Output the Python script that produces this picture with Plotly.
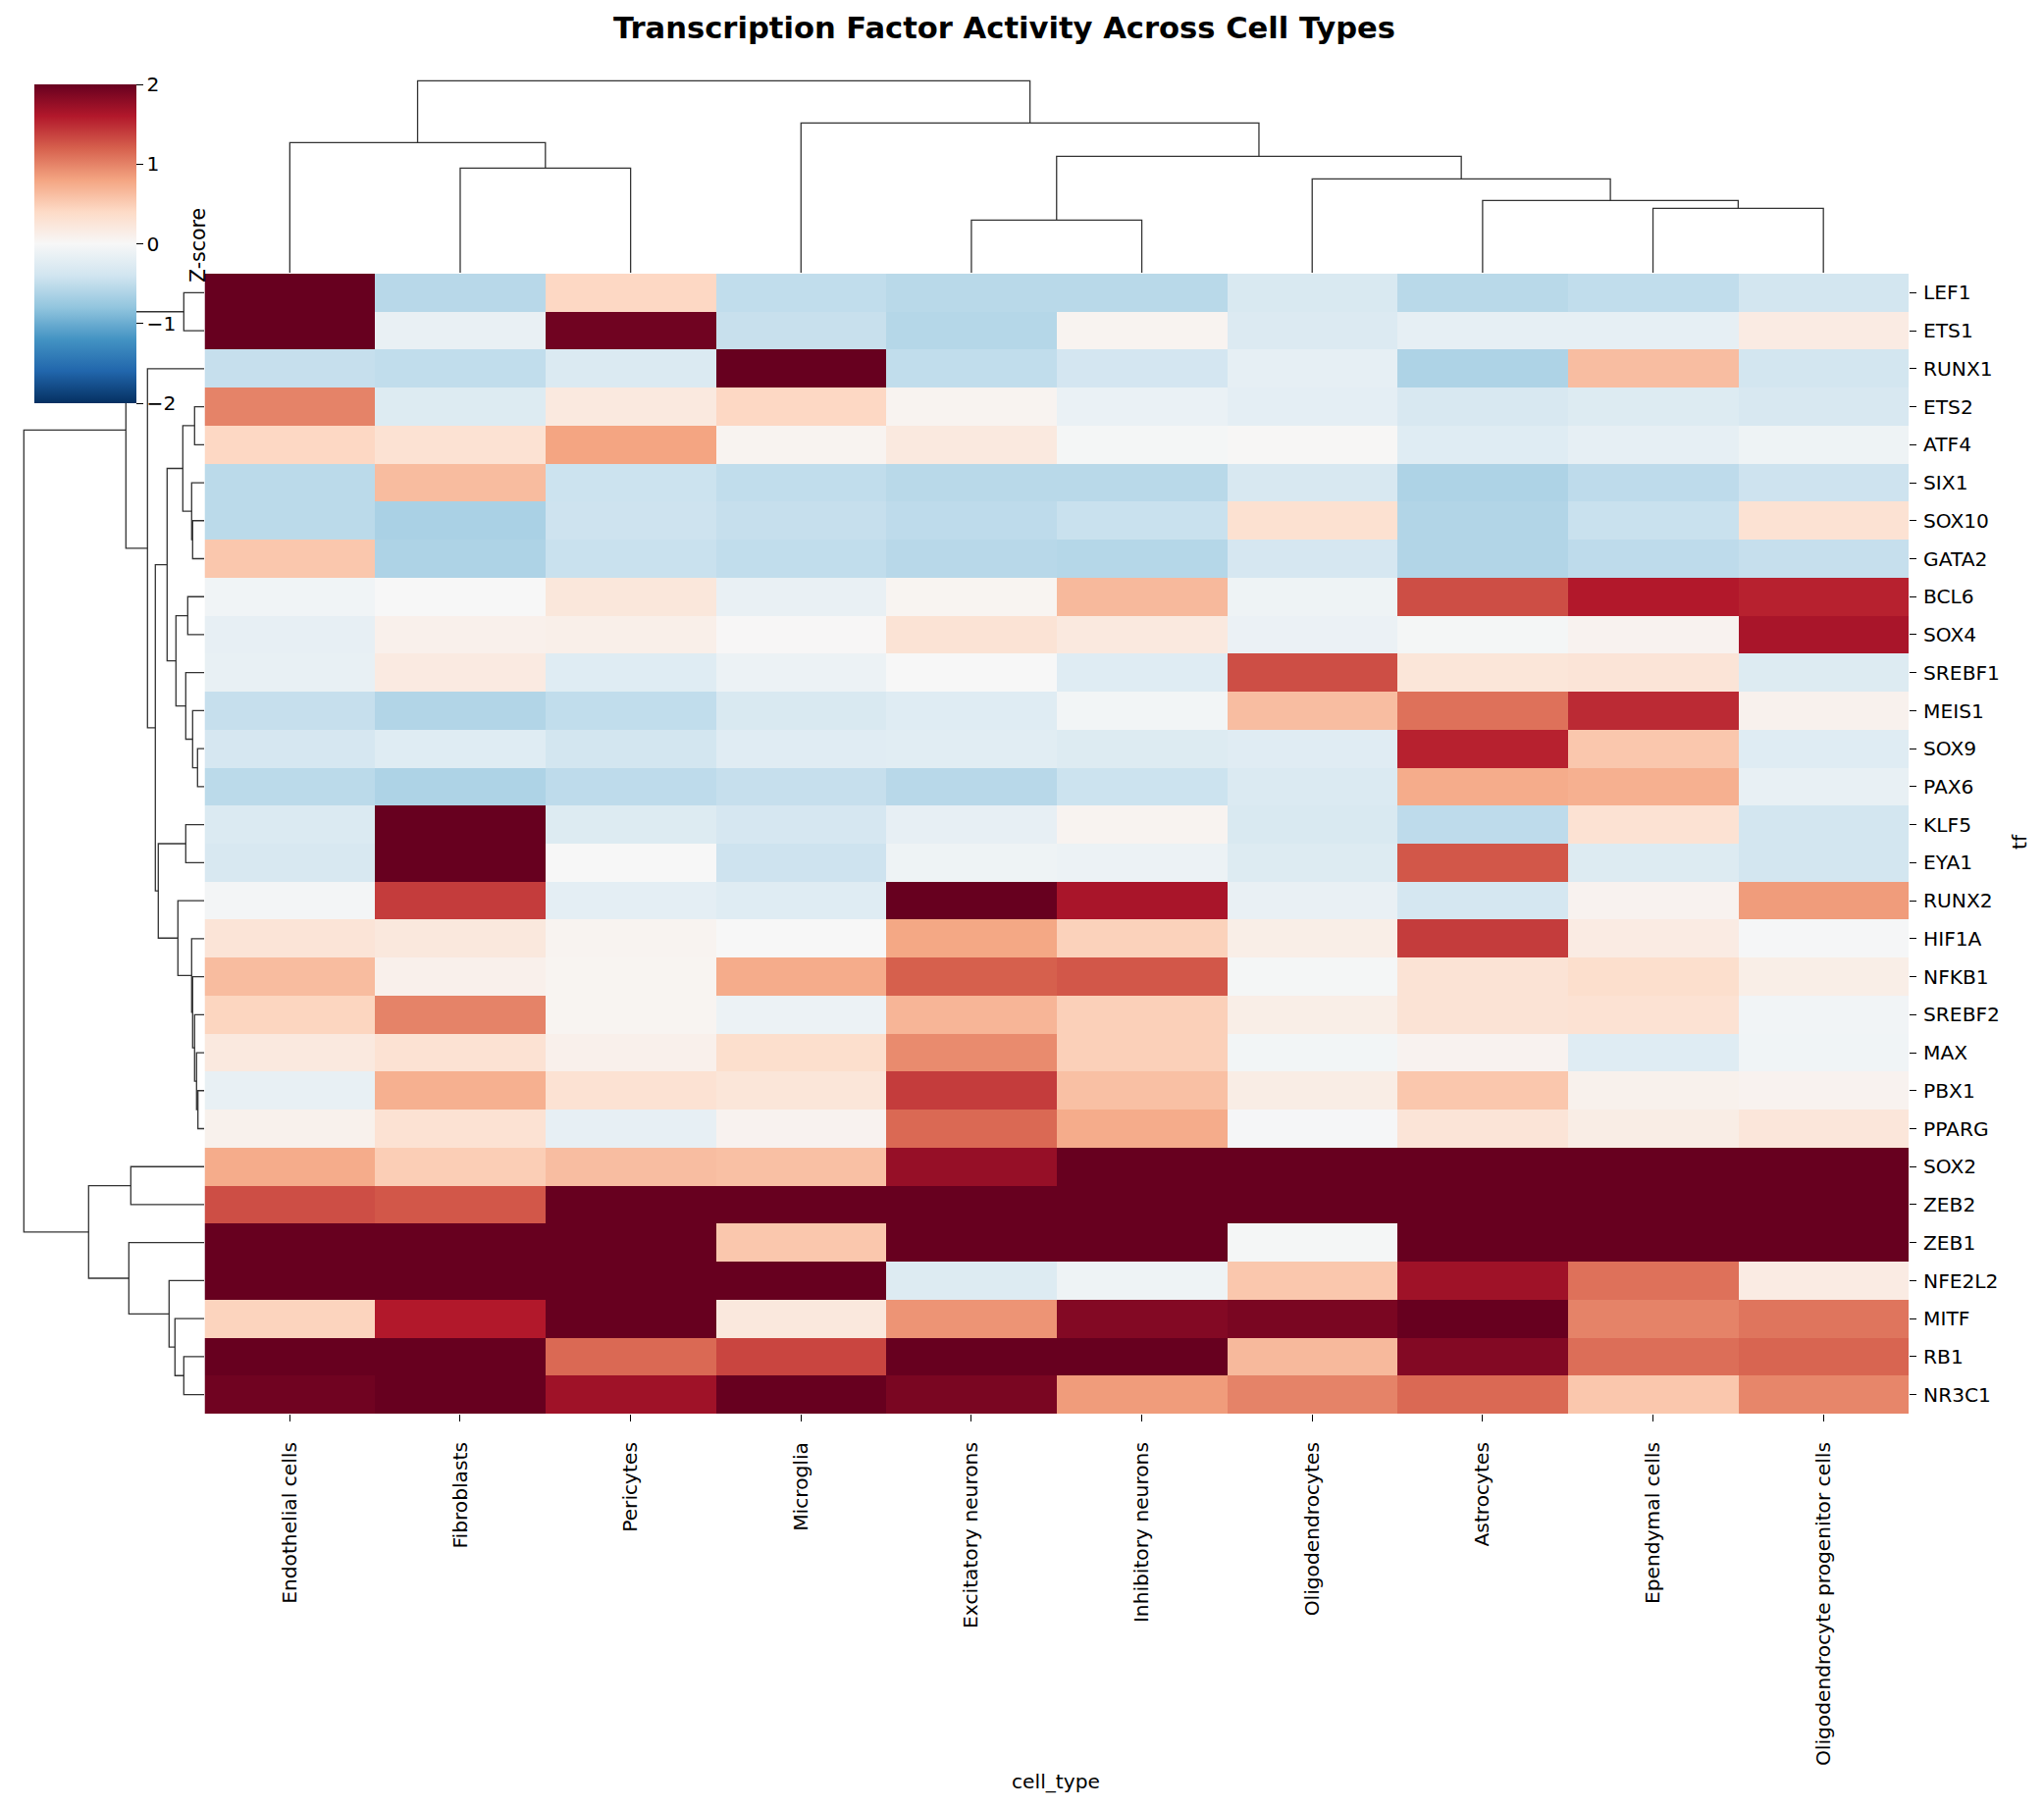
import plotly.graph_objects as go

W, H = 2083, 1843

cell_types = ["Endothelial cells", "Fibroblasts", "Pericytes", "Microglia", "Excitatory neurons",
              "Inhibitory neurons", "Oligodendrocytes", "Astrocytes", "Ependymal cells",
              "Oligodendrocyte progenitor cells"]
tfs = ["LEF1", "ETS1", "RUNX1", "ETS2", "ATF4", "SIX1", "SOX10", "GATA2", "BCL6", "SOX4",
       "SREBF1", "MEIS1", "SOX9", "PAX6", "KLF5", "EYA1", "RUNX2", "HIF1A", "NFKB1", "SREBF2",
       "MAX", "PBX1", "PPARG", "SOX2", "ZEB2", "ZEB1", "NFE2L2", "MITF", "RB1", "NR3C1"]

# z-scores, one list per tf, same order as cell_types
LEF1 = [2.5, -0.56, 0.42, -0.5, -0.55, -0.55, -0.32, -0.55, -0.5, -0.38]
ETS1 = [2.5, -0.15, 1.95, -0.46, -0.58, 0.06, -0.28, -0.18, -0.18, 0.17]
RUNX1 = [-0.47, -0.5, -0.3, 2.5, -0.5, -0.37, -0.18, -0.62, 0.62, -0.38]
ETS2 = [1.0, -0.27, 0.2, 0.42, 0.06, -0.14, -0.2, -0.33, -0.27, -0.33]
ATF4 = [0.42, 0.3, 0.8, 0.06, 0.2, -0.03, 0.02, -0.25, -0.18, -0.1]
SIX1 = [-0.54, 0.63, -0.43, -0.5, -0.55, -0.55, -0.33, -0.62, -0.52, -0.42]
SOX10 = [-0.54, -0.65, -0.42, -0.47, -0.52, -0.45, 0.32, -0.6, -0.45, 0.3]
GATA2 = [0.55, -0.62, -0.45, -0.5, -0.56, -0.58, -0.35, -0.6, -0.52, -0.47]
BCL6 = [-0.07, 0.0, 0.23, -0.15, 0.05, 0.65, -0.1, 1.3, 1.6, 1.55]
SOX4 = [-0.17, 0.1, 0.12, 0.01, 0.28, 0.2, -0.13, -0.03, 0.07, 1.65]
SREBF1 = [-0.16, 0.18, -0.25, -0.12, 0.0, -0.25, 1.3, 0.25, 0.27, -0.27]
MEIS1 = [-0.47, -0.6, -0.5, -0.32, -0.25, -0.05, 0.62, 1.1, 1.5, 0.08]
SOX9 = [-0.35, -0.25, -0.38, -0.24, -0.23, -0.27, -0.24, 1.55, 0.55, -0.25]
PAX6 = [-0.54, -0.62, -0.52, -0.47, -0.56, -0.43, -0.3, 0.75, 0.72, -0.16]
KLF5 = [-0.3, 2.5, -0.27, -0.35, -0.17, 0.06, -0.32, -0.52, 0.3, -0.38]
EYA1 = [-0.33, 2.5, 0.0, -0.42, -0.1, -0.12, -0.27, 1.25, -0.27, -0.38]
RUNX2 = [-0.04, 1.4, -0.2, -0.25, 2.5, 1.65, -0.15, -0.36, 0.07, 0.85]
HIF1A = [0.27, 0.22, 0.06, 0.0, 0.78, 0.47, 0.13, 1.4, 0.17, -0.02]
NFKB1 = [0.63, 0.1, 0.05, 0.75, 1.2, 1.25, -0.03, 0.28, 0.35, 0.13]
SREBF2 = [0.44, 1.0, 0.05, -0.12, 0.68, 0.48, 0.13, 0.28, 0.3, -0.06]
MAX = [0.2, 0.3, 0.1, 0.35, 0.95, 0.48, -0.05, 0.07, -0.25, -0.07]
PBX1 = [-0.16, 0.72, 0.3, 0.25, 1.4, 0.6, 0.15, 0.55, 0.09, 0.07]
PPARG = [0.09, 0.3, -0.17, 0.07, 1.15, 0.75, -0.02, 0.27, 0.15, 0.24]
SOX2 = [0.75, 0.5, 0.62, 0.6, 1.75, 2.5, 2.5, 2.5, 2.5, 2.5]
ZEB2 = [1.3, 1.25, 2.5, 2.5, 2.5, 2.5, 2.5, 2.5, 2.5, 2.5]
ZEB1 = [2.5, 2.5, 2.5, 0.55, 2.5, 2.5, -0.03, 2.5, 2.5, 2.5]
NFE2L2 = [2.5, 2.5, 2.5, 2.5, -0.27, -0.1, 0.55, 1.7, 1.1, 0.17]
MITF = [0.45, 1.6, 2.5, 0.22, 0.9, 1.85, 1.9, 2.1, 1.0, 1.08]
RB1 = [2.5, 2.5, 1.15, 1.35, 2.5, 2.5, 0.65, 1.85, 1.12, 1.17]
NR3C1 = [1.95, 2.4, 1.7, 2.5, 1.9, 0.85, 1.0, 1.15, 0.55, 0.98]

z_values = [LEF1, ETS1, RUNX1, ETS2, ATF4, SIX1, SOX10, GATA2, BCL6, SOX4,
            SREBF1, MEIS1, SOX9, PAX6, KLF5, EYA1, RUNX2, HIF1A, NFKB1, SREBF2,
            MAX, PBX1, PPARG, SOX2, ZEB2, ZEB1, NFE2L2, MITF, RB1, NR3C1]

# linkage, scipy style: leaves are 0..n-1, merge i makes node n+i: (child a, child b, distance)
col_linkage = [(1, 2, 106.7), (0, 10, 132.7), (4, 5, 53.7), (8, 9, 65.7), (7, 13, 73.7),
               (6, 14, 95.7), (12, 15, 118.7), (3, 16, 152.7), (11, 17, 195.7)]
row_linkage = [(0, 1, 20.7), (3, 4, 9.7), (6, 7, 11.7), (5, 32, 12.7), (31, 33, 21.7),
               (12, 13, 6.7), (11, 35, 11.7), (10, 36, 18.7), (8, 9, 16.7), (38, 37, 28.7),
               (34, 39, 37.7), (14, 15, 18.7), (21, 22, 6.3), (20, 42, 7.7), (19, 43, 9.7),
               (18, 44, 11.7), (17, 45, 12.7), (16, 46, 26.7), (41, 47, 46.7), (40, 48, 49.7),
               (2, 49, 57.7), (30, 50, 79.7), (23, 24, 74.7), (28, 29, 20.7), (27, 53, 29.7),
               (26, 54, 35.7), (25, 55, 76.7), (52, 56, 117.7), (51, 57, 183.7)]

colorscale = [[0.0, "#053061"], [0.1, "#2166ac"], [0.2, "#4393c3"], [0.3, "#92c5de"], [0.4, "#d1e5f0"],
              [0.5, "#f7f7f7"], [0.6, "#fddbc7"], [0.7, "#f4a582"], [0.8, "#d6604d"], [0.9, "#b2182b"],
              [1.0, "#67001f"]]


def dendro_segments(linkage, n):
    """u-shaped links, returns leaf-position and distance lists with None gaps"""
    pos = {i: float(i) for i in range(n)}
    dist = {i: 0.0 for i in range(n)}
    p_out, d_out = [], []
    for i, (a, b, d) in enumerate(linkage):
        p_out += [pos[a], pos[a], pos[b], pos[b], None]
        d_out += [dist[a], d, d, dist[b], None]
        pos[n + i] = (pos[a] + pos[b]) / 2
        dist[n + i] = d
    return p_out, d_out


# pixel layout of the clustermap
hm_x = [208.5 / W, 1945 / W]
hm_y = [1 - 1441 / H, 1 - 279 / H]

fig = go.Figure()

fig.add_trace(go.Heatmap(
    z=z_values, x=cell_types, y=tfs, zmin=-2, zmax=2, colorscale=colorscale,
    colorbar=dict(
        x=35 / W, xanchor="left", xpad=0, y=1 - 86 / H, yanchor="top", ypad=0,
        len=325, lenmode="pixels", thickness=104, thicknessmode="pixels",
        outlinewidth=0, ticks="outside", ticklen=7, tickwidth=1.3, tickcolor="black",
        tickvals=[-2, -1, 0, 1, 2], tickfont=dict(size=20.2, color="black"),
    ),
))

p, d = dendro_segments(col_linkage, len(cell_types))
fig.add_trace(go.Scatter(x=p, y=d, mode="lines", xaxis="x2", yaxis="y2", hoverinfo="skip",
                         line=dict(color="#333333", width=1.3), showlegend=False))
p, d = dendro_segments(row_linkage, len(tfs))
fig.add_trace(go.Scatter(x=d, y=p, mode="lines", xaxis="x3", yaxis="y3", hoverinfo="skip",
                         line=dict(color="#333333", width=1.3), showlegend=False))

fig.update_layout(
    width=W, height=H, margin=dict(l=0, r=0, t=0, b=0),
    paper_bgcolor="white", plot_bgcolor="white",
    font=dict(family="DejaVu Sans", size=20.2, color="black"),
    title=dict(text="<b>Transcription Factor Activity Across Cell Types</b>", x=1023.5 / W, xanchor="center",
               y=1 - 28 / H, yanchor="middle", font=dict(size=30.6, color="black")),
    xaxis=dict(domain=hm_x, anchor="y", ticks="outside", ticklen=7, tickwidth=1.3, tickcolor="black",
               tickangle=-90, ticklabelstandoff=13, showgrid=False, zeroline=False, automargin=False),
    yaxis=dict(domain=hm_y, anchor="x", side="right", autorange="reversed", ticks="outside", ticklen=7,
               ticklabelstandoff=3, tickwidth=1.3, tickcolor="black", showgrid=False, zeroline=False,
               automargin=False),
    xaxis2=dict(domain=hm_x, anchor="y2", range=[-0.5, 9.5], visible=False),
    yaxis2=dict(domain=[1 - 278 / H, 1 - 72 / H], anchor="x2", range=[0, 206], visible=False),
    xaxis3=dict(domain=[0, 208 / W], anchor="y3", range=[208, 0], visible=False),
    yaxis3=dict(domain=hm_y, anchor="x3", range=[29.5, -0.5], visible=False),
    annotations=[
        dict(text="cell_type", x=1076 / W, y=1 - 1816 / H, xref="paper", yref="paper", showarrow=False,
             xanchor="center", yanchor="middle", font=dict(size=20.2)),
        dict(text="tf", x=2058 / W, y=1 - 858 / H, xref="paper", yref="paper", showarrow=False,
             xanchor="center", yanchor="middle", textangle=-90, font=dict(size=20.2)),
        dict(text="Z-score", x=202 / W, y=1 - 250 / H, xref="paper", yref="paper", showarrow=False,
             xanchor="center", yanchor="middle", textangle=-90, font=dict(size=20.5)),
    ],
)

fig.write_html("out.html", config={"displayModeBar": False}, post_script="document.body.style.margin='0'")
